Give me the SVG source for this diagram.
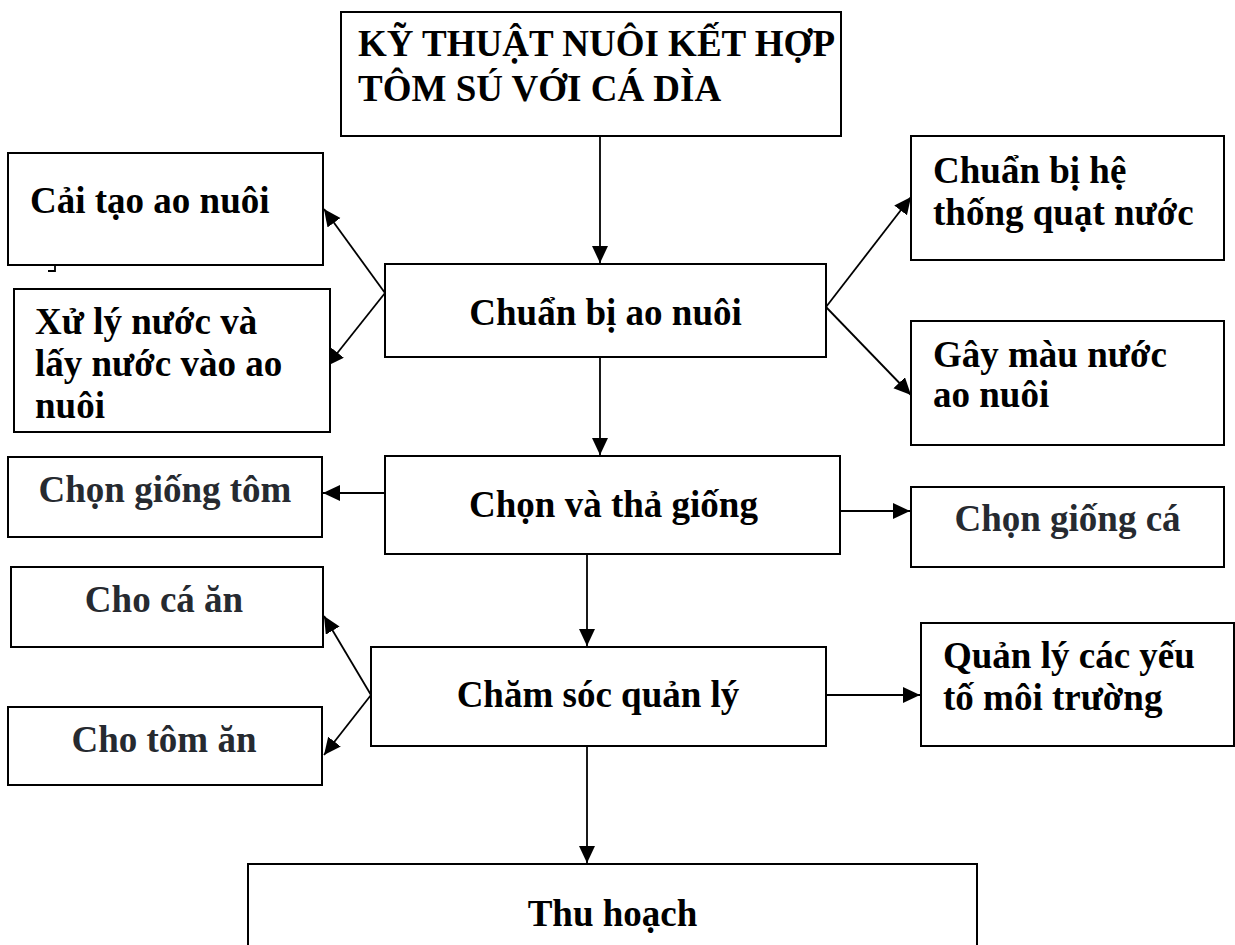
<svg xmlns="http://www.w3.org/2000/svg" width="1235" height="945" viewBox="0 0 1235 945">
<style>
.box{fill:#fff;stroke:#000;stroke-width:2}
.t{font-family:"Liberation Serif","Times New Roman",serif;font-weight:bold;font-size:37px;fill:#000}
.g{fill:#262a30}
.c{text-anchor:middle}
.ln{stroke:#000;stroke-width:1.8;fill:none}
</style>
<defs>
<marker id="ah" markerUnits="userSpaceOnUse" markerWidth="19" markerHeight="17" refX="17" refY="8" orient="auto">
<path d="M0,0 L17,8 L0,16 z" fill="#000"/>
</marker>
</defs>
<rect width="1235" height="945" fill="#fff"/>

<g id="connectors">
<line class="ln" x1="600" y1="137" x2="600" y2="263" marker-end="url(#ah)"/>
<line class="ln" x1="600" y1="358" x2="600" y2="455" marker-end="url(#ah)"/>
<line class="ln" x1="587" y1="555" x2="587" y2="646" marker-end="url(#ah)"/>
<line class="ln" x1="587" y1="747" x2="587" y2="863" marker-end="url(#ah)"/>
<line class="ln" x1="385" y1="293" x2="324" y2="209" marker-end="url(#ah)"/>
<line class="ln" x1="385" y1="293" x2="327" y2="366" marker-end="url(#ah)"/>
<line class="ln" x1="826" y1="307" x2="911" y2="197" marker-end="url(#ah)"/>
<line class="ln" x1="826" y1="307" x2="911" y2="395" marker-end="url(#ah)"/>
<line class="ln" x1="385" y1="493" x2="323" y2="493" marker-end="url(#ah)"/>
<line class="ln" x1="840" y1="511" x2="910" y2="511" marker-end="url(#ah)"/>
<line class="ln" x1="371" y1="695" x2="324" y2="616" marker-end="url(#ah)"/>
<line class="ln" x1="371" y1="695" x2="324" y2="755" marker-end="url(#ah)"/>
<line class="ln" x1="826" y1="695" x2="920" y2="695" marker-end="url(#ah)"/>
</g>

<g id="title">
<rect class="box" x="341" y="12" width="500" height="124"/>
<text class="t" x="358" y="56">KỸ THUẬT NUÔI KẾT HỢP</text>
<text class="t" x="358" y="101">TÔM SÚ VỚI CÁ DÌA</text>
</g>

<g id="chuan-bi-ao-nuoi">
<rect class="box" x="385" y="264" width="441" height="93"/>
<text class="t c" x="605.5" y="325">Chuẩn bị ao nuôi</text>
</g>

<g id="cai-tao">
<rect class="box" x="8" y="153" width="315" height="112"/>
<text class="t" x="30" y="213">Cải tạo ao nuôi</text>
<path class="ln" d="M55,265 V271 H48"/>
</g>

<g id="xu-ly-nuoc">
<rect class="box" x="14" y="289" width="316" height="143"/>
<text class="t" x="35" y="334">Xử lý nước và</text>
<text class="t" x="35" y="376">lấy nước vào ao</text>
<text class="t" x="35" y="418">nuôi</text>
</g>

<g id="quat-nuoc">
<rect class="box" x="911" y="136" width="313" height="124"/>
<text class="t" x="933" y="183">Chuẩn bị hệ</text>
<text class="t" x="933" y="225">thống quạt nước</text>
</g>

<g id="gay-mau">
<rect class="box" x="911" y="321" width="313" height="124"/>
<text class="t" x="933" y="367">Gây màu nước</text>
<text class="t" x="933" y="407">ao nuôi</text>
</g>

<g id="chon-tha-giong">
<rect class="box" x="385" y="456" width="455" height="98"/>
<text class="t c" x="613.5" y="517">Chọn và thả giống</text>
</g>

<g id="chon-giong-tom">
<rect class="box" x="8" y="457" width="314" height="80"/>
<text class="t g c" x="165" y="502">Chọn giống tôm</text>
</g>

<g id="chon-giong-ca">
<rect class="box" x="911" y="487" width="313" height="80"/>
<text class="t g c" x="1067.5" y="531">Chọn giống cá</text>
</g>

<g id="cham-soc">
<rect class="box" x="371" y="647" width="455" height="99"/>
<text class="t c" x="598" y="707">Chăm sóc quản lý</text>
</g>

<g id="cho-ca-an">
<rect class="box" x="11" y="567" width="312" height="80"/>
<text class="t g c" x="164" y="612">Cho cá ăn</text>
</g>

<g id="cho-tom-an">
<rect class="box" x="8" y="707" width="314" height="78"/>
<text class="t g c" x="164" y="752">Cho tôm ăn</text>
</g>

<g id="quan-ly-moi-truong">
<rect class="box" x="921" y="623" width="313" height="123"/>
<text class="t" x="943" y="668">Quản lý các yếu</text>
<text class="t" x="943" y="710">tố môi trường</text>
</g>

<g id="thu-hoach">
<rect class="box" x="248" y="864" width="729" height="100"/>
<text class="t c" x="612.5" y="926">Thu hoạch</text>
</g>
</svg>
